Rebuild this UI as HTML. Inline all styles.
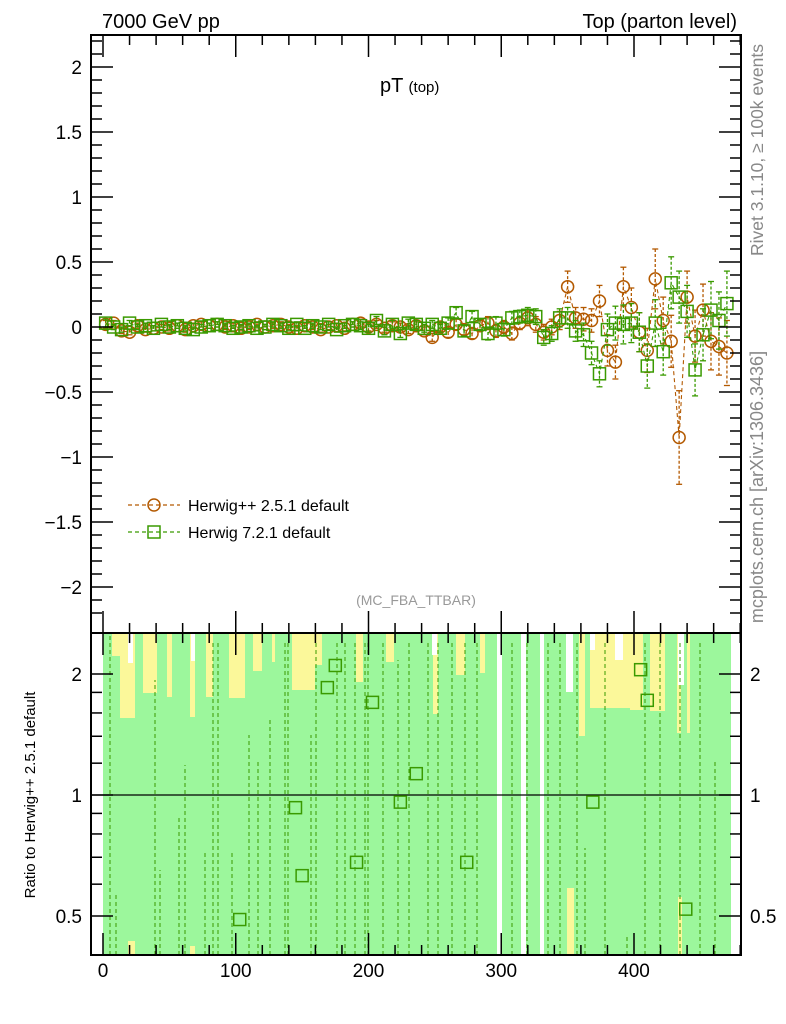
<!DOCTYPE html>
<html><head><meta charset="utf-8"><style>
body{margin:0;background:#fff;}
svg{display:block;font-family:"Liberation Sans",sans-serif;}
</style></head><body>
<svg id="c" width="786" height="1024" xmlns="http://www.w3.org/2000/svg">
<text x="102" y="28" font-size="20">7000 GeV pp</text>
<text x="737" y="28" font-size="20" text-anchor="end">Top (parton level)</text>
<text x="380" y="92" font-size="20">pT <tspan font-size="15">(top)</tspan></text>
<text transform="translate(763,150) rotate(-90)" font-size="17.5" fill="#888" text-anchor="middle">Rivet 3.1.10, ≥ 100k events</text>
<text transform="translate(763,487) rotate(-90)" font-size="18" fill="#888" text-anchor="middle">mcplots.cern.ch [arXiv:1306.3436]</text>
<text x="416" y="605" font-size="14" fill="#999" text-anchor="middle">(MC_FBA_TTBAR)</text>
<text transform="translate(35,795) rotate(-90)" font-size="15" text-anchor="middle">Ratio to Herwig++ 2.5.1 default</text>
<g id="ratio"></g>
<g id="main"></g>
<g id="axes"></g>
<g>
<g>
<line x1="128" y1="505" x2="180" y2="505" stroke="#b35900" stroke-dasharray="4,3" stroke-width="1.3"/>
<circle cx="154" cy="505" r="6" fill="none" stroke="#b35900" stroke-width="1.5"/>
<text x="188" y="511" font-size="16">Herwig++ 2.5.1 default</text></g>
<g>
<line x1="128" y1="532" x2="180" y2="532" stroke="#3a9a00" stroke-dasharray="4,3" stroke-width="1.3"/>
<rect x="148" y="526" width="12" height="12" fill="none" stroke="#3a9a00" stroke-width="1.5"/>
<text x="188" y="538" font-size="16">Herwig 7.2.1 default</text></g>
</g>
</svg>
<script>
const xCenters=[2,8,14,20,26,32,38,44,50,56,62,68,74,80,86,92,98,104,110,116,122,128,134,140,146,152,158,164,170,176,182,188,194,200,206,212,218,224,230,236,242,248,254,260,266,272,278,284,290,296,302,308,314,320,326,332,338,344,350,356,362,368,374,380,386,392,398,404,410,416,422,428,434,440,446,452,458,464,470];
const hppVals=[0.02,0.03,-0.03,-0.04,0.01,-0.02,-0.01,0.0,-0.01,0.01,-0.02,0.01,0.02,0.01,0.02,0.0,0.01,-0.01,0.0,0.02,0.0,0.01,0.02,0.0,-0.01,0.01,0.0,-0.02,0.0,0.01,-0.01,0.02,0.03,0.0,0.02,-0.01,0.01,0.0,-0.02,0.01,-0.03,-0.08,0.0,-0.04,0.02,-0.02,-0.05,0.01,0.03,-0.03,0.0,-0.05,0.03,0.07,0.02,-0.04,0.0,0.05,0.31,0.07,0.06,0.05,0.2,-0.18,-0.27,0.31,0.15,-0.04,-0.18,0.37,0.05,-0.11,-0.85,0.23,-0.07,0.13,-0.11,-0.15,-0.2];
const hppErr=[0.03,0.02,0.02,0.02,0.02,0.02,0.02,0.02,0.02,0.02,0.02,0.02,0.02,0.02,0.02,0.02,0.02,0.02,0.02,0.02,0.02,0.02,0.02,0.02,0.02,0.02,0.02,0.02,0.02,0.02,0.02,0.02,0.03,0.03,0.03,0.03,0.03,0.03,0.03,0.03,0.03,0.03,0.03,0.04,0.04,0.04,0.04,0.04,0.05,0.05,0.05,0.05,0.05,0.06,0.06,0.06,0.06,0.07,0.12,0.08,0.09,0.09,0.12,0.12,0.13,0.15,0.15,0.15,0.17,0.23,0.18,0.2,0.36,0.2,0.2,0.2,0.22,0.22,0.25];
const h7Vals=[0.03,0.0,-0.02,0.03,0.0,0.01,-0.01,0.02,0.0,0.01,-0.01,-0.02,0.0,0.01,0.02,0.01,-0.01,0.0,0.01,-0.01,0.0,0.02,0.01,-0.01,0.02,-0.01,0.01,0.0,0.02,-0.02,0.01,0.02,0.01,-0.01,0.05,-0.03,0.02,-0.05,0.03,0.02,-0.01,0.02,-0.01,0.03,0.11,-0.03,0.08,0.02,-0.05,0.03,-0.02,0.07,0.08,0.09,0.08,-0.08,-0.05,0.07,0.07,-0.03,-0.06,-0.2,-0.36,-0.02,0.03,0.02,0.03,-0.04,-0.3,0.03,-0.19,0.34,0.23,0.12,-0.33,-0.06,0.13,0.05,0.18];
const h7Err=[0.03,0.02,0.02,0.02,0.02,0.02,0.02,0.02,0.02,0.02,0.02,0.02,0.02,0.02,0.02,0.02,0.02,0.02,0.02,0.02,0.02,0.02,0.02,0.02,0.02,0.02,0.02,0.02,0.02,0.02,0.02,0.02,0.03,0.03,0.03,0.03,0.03,0.03,0.03,0.03,0.03,0.03,0.03,0.04,0.04,0.04,0.04,0.04,0.05,0.05,0.05,0.05,0.05,0.06,0.06,0.06,0.06,0.07,0.08,0.08,0.09,0.09,0.1,0.12,0.13,0.15,0.15,0.15,0.17,0.18,0.18,0.2,0.2,0.2,0.2,0.2,0.22,0.22,0.25];
const ratioX=[103,145,150,169,175,191,203,224,236,274,369,405,410,439];
const ratioVals=[0.49,0.93,0.63,1.85,2.1,0.68,1.7,0.96,1.13,0.68,0.96,2.05,1.72,0.52];
const yTickLabels=["2","1.5","1","0.5","0","−0.5","−1","−1.5","−2"];
const yTickVals=[2,1.5,1,0.5,0,-0.5,-1,-1.5,-2];
const xTickVals=[0,100,200,300,400];
const rTickVals=[0.5,1,2];

const NS="http://www.w3.org/2000/svg";
const L=91,R=741,T=35,M=633,B=955;
const sx=v=>103+v*1.3275;
const sy=v=>327-v*130;
const ry=v=>795-Math.log2(v)*121;
function mk(p,tag,a){const e=document.createElementNS(NS,tag);for(const k in a)e.setAttribute(k,a[k]);p.appendChild(e);return e;}
const main=document.getElementById('main'),ratio=document.getElementById('ratio'),axes=document.getElementById('axes');

const g1=mk(ratio,'rect',{x:103,y:M,width:628,height:B-M,fill:'#9cf79c'});


const yel=[[112,120,656],[120,135,718],[143,157,693],[167,172,697],[190,195,717],[206,213,697],[229,245,698],[253,262,671],[272,275,662],[292,315,690],[315,322,665],[356,363,682],[386,394,662],[433,438,714],[456,465,675],[480,485,673],[579,585,736],[590,630,708],[630,643,710],[650,665,711],[677,681,733],[687,690,733]];
yel.forEach(b=>{const e=mk(ratio,'rect',{x:b[0],y:M,width:b[1]-b[0],height:b[2]-M,fill:'#fbf89a'});

});
[[128,135,941],[190,195,946],[567,574,888],[678,682,897]].forEach(b=>{const e=mk(ratio,'rect',{x:b[0],y:b[2],width:b[1]-b[0],height:B-b[2],fill:'#fbf89a'});

});
[[128,133,663],[191,195,661],[432,437,655],[566,573,692],[590,595,650],[615,623,660],[678,684,685]].forEach(b=>{const e=mk(ratio,'rect',{x:b[0],y:M,width:b[1]-b[0],height:b[2]-M,fill:'#fff'});

});
[[497,502],[521,526],[540,544]].forEach(b=>{const e=mk(ratio,'rect',{x:b[0],y:M,width:b[1]-b[0],height:B-M,fill:'#fff'});

});
[[110,B,M],[116,B,895],[155,B,680],[160,B,870],[179,B,815],[185,B,765],[205,B,850],[213,B,640],[218,B,640],[232,B,850],[249,B,735],[258,B,760],[270,B,720],[285,B,640],[288,B,640],[311,B,735],[316,B,640],[337,B,640],[345,B,640],[355,B,640],[365,B,640],[368,B,640],[383,B,640],[398,B,660],[409,B,640],[428,B,640],[438,B,640],[452,B,640],[465,B,640],[477,B,640],[512,B,640],[527,B,640],[548,B,640],[560,B,640],[577,B,640],[585,B,848],[605,B,640],[627,B,935],[645,B,640],[660,B,640],[680,B,640],[700,B,640],[715,B,760]].forEach(l=>{
const e=mk(ratio,'line',{x1:l[0],y1:l[1],x2:l[0],y2:l[2],stroke:'#3a9a00','stroke-dasharray':'4,3','stroke-width':1});

});
const ref=mk(ratio,'line',{x1:L,y1:ry(1),x2:R,y2:ry(1),stroke:'#000','stroke-width':1.3});


ratioX.forEach((x,i)=>{const cx=sx(x),cy=ry(ratioVals[i]);
const e=mk(ratio,'rect',{x:cx-6,y:cy-6,width:12,height:12,fill:'none',stroke:'#3a9a00','stroke-width':1.5});

});

function series(vals,err,color,shape,name){
 const g=mk(main,'g',{});
 
 
 let d='';
 vals.forEach((v,i)=>{d+=(i?'L':'M')+sx(xCenters[i])+','+sy(v);});
 mk(g,'path',{d:d,fill:'none',stroke:color,'stroke-dasharray':'4,3','stroke-width':1.1});
 vals.forEach((v,i)=>{const x=sx(xCenters[i]),y1=sy(v+err[i]),y2=sy(v-err[i]);
  mk(g,'line',{x1:x,y1:y1,x2:x,y2:y2,stroke:color,'stroke-dasharray':'3,2','stroke-width':1.3});
  mk(g,'line',{x1:x-3,y1:y1,x2:x+3,y2:y1,stroke:color,'stroke-width':1.3});
  mk(g,'line',{x1:x-3,y1:y2,x2:x+3,y2:y2,stroke:color,'stroke-width':1.3});
  let m;
  if(shape==='c') m=mk(g,'circle',{cx:x,cy:sy(v),r:6,fill:'none',stroke:color,'stroke-width':1.5});
  else m=mk(g,'rect',{x:x-6,y:sy(v)-6,width:12,height:12,fill:'none',stroke:color,'stroke-width':1.5});
  
  
 });
}
series(hppVals,hppErr,'#b35900','c','series-herwigpp');
series(h7Vals,h7Err,'#3a9a00','s','series-herwig7');

const f1=mk(axes,'rect',{x:L,y:T,width:R-L,height:M-T,fill:'none',stroke:'#000','stroke-width':2});


const f2=mk(axes,'rect',{x:L,y:M,width:R-L,height:B-M,fill:'none',stroke:'#000','stroke-width':2});


for(let k=-22;k<=22;k++){const v=k/10,y=sy(v);if(y<T||y>M)continue;const maj=k%5===0,len=maj?22:11;
 mk(axes,'line',{x1:L,y1:y,x2:L+len,y2:y,stroke:'#000','stroke-width':1.5});
 mk(axes,'line',{x1:R,y1:y,x2:R-len,y2:y,stroke:'#000','stroke-width':1.5});}
yTickVals.forEach((v,i)=>{const t=mk(axes,'text',{x:82,y:sy(v)+7,'font-size':19,'text-anchor':'end'});t.textContent=yTickLabels[i];

});
[0.4,0.5,0.6,0.7,0.8,0.9,1,2].forEach(v=>{const y=ry(v),maj=[0.5,1,2].includes(v),len=maj?22:11;
 mk(axes,'line',{x1:L,y1:y,x2:L+len,y2:y,stroke:'#000','stroke-width':1.5});
 mk(axes,'line',{x1:R,y1:y,x2:R-len,y2:y,stroke:'#000','stroke-width':1.5});});
[1.2,1.4,1.6,1.8].forEach(v=>{const y=ry(v);
 mk(axes,'line',{x1:L,y1:y,x2:L+11,y2:y,stroke:'#000','stroke-width':1.5});
 mk(axes,'line',{x1:R,y1:y,x2:R-11,y2:y,stroke:'#000','stroke-width':1.5});});
rTickVals.forEach(v=>{
 const t=mk(axes,'text',{x:82,y:ry(v)+7,'font-size':19,'text-anchor':'end'});t.textContent=String(v);
 
 
 const t2=mk(axes,'text',{x:750,y:ry(v)+7,'font-size':19});t2.textContent=String(v);
 
 });
for(let v=0;v<=480;v+=20){const x=sx(v);const maj=v%100===0,len=maj?22:10;
 [T,M].forEach(y0=>mk(axes,'line',{x1:x,y1:y0,x2:x,y2:y0+len,stroke:'#000','stroke-width':1.5}));
 [M,B].forEach(y0=>mk(axes,'line',{x1:x,y1:y0,x2:x,y2:y0-len,stroke:'#000','stroke-width':1.5}));}
xTickVals.forEach(v=>{const t=mk(axes,'text',{x:sx(v),y:977,'font-size':19,'text-anchor':'middle'});t.textContent=String(v);

});
</script>
</body></html>
